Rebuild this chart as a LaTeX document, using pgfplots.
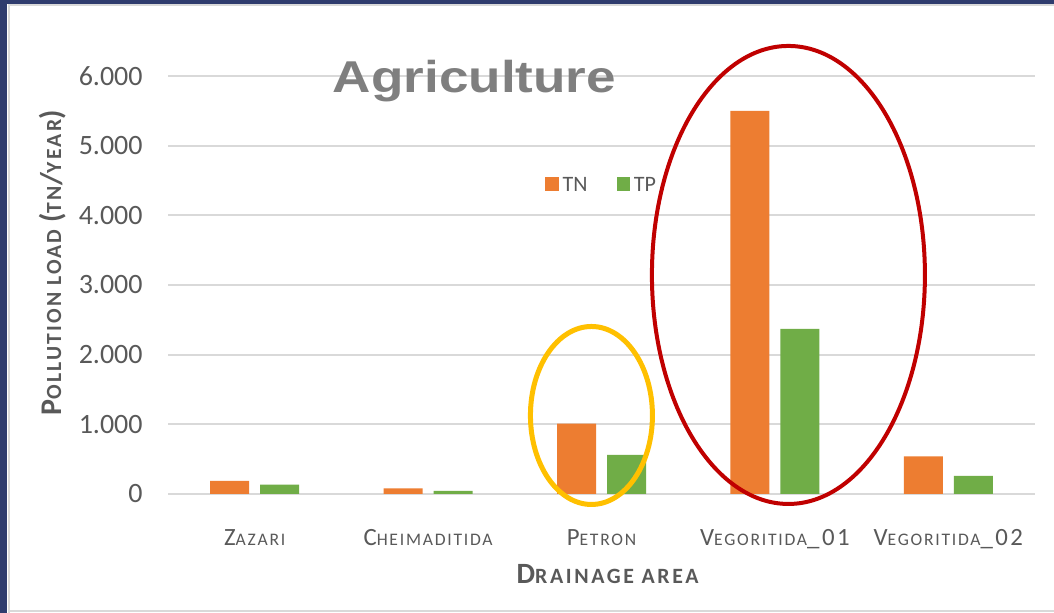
\documentclass[border=0pt]{standalone}
\usepackage{pgfplots}
\pgfplotsset{compat=1.18}
\usepackage{fontspec}
\setmainfont{Carlito}
\newfontfamily\titlefont{Liberation Sans}
\newfontfamily\catfont[LetterSpace=10]{Carlito}
\newfontfamily\ylabfont[LetterSpace=10]{Carlito}
\newfontfamily\xlabfont[LetterSpace=12]{Carlito}
\definecolor{tn}{HTML}{ED7D31}
\definecolor{tp}{HTML}{70AD47}
\definecolor{txt}{HTML}{595959}
\definecolor{grd}{HTML}{D9D9D9}
\definecolor{navy}{HTML}{2F3C6E}
\definecolor{ttl}{HTML}{7F7F7F}
\definecolor{ellA}{HTML}{FFC000}
\definecolor{ellB}{HTML}{C00000}
\newcommand{\cbig}{\fontsize{12.4}{14}\selectfont}
\newcommand{\csml}{\fontsize{8.8}{10}\selectfont}
\newcommand{\cat}[2]{\catfont{\cbig #1}{\csml #2}}
\newcommand{\lbig}{\fontsize{15}{16}\selectfont}
\newcommand{\lsml}{\fontsize{10.8}{12}\selectfont}
\newcommand{\xbig}{\fontsize{14.7}{16}\selectfont}
\newcommand{\xsml}{\fontsize{10.9}{12}\selectfont}
\begin{document}
\begin{tikzpicture}
\useasboundingbox (0,0) rectangle (527pt,306.5pt);
\begin{scope}[x=0.5pt,y=-0.5pt,yshift=306.5pt]
\fill[navy] (0,0) rectangle (1054,613);
\fill[white] (7,4) rectangle (1054,613);
\draw[grd, line width=1pt] (8.5,613) -- (8.5,5.5) -- (1054,5.5);
\draw[grd, line width=1pt] (8.5,611.5) -- (1054,611.5);
\end{scope}
\begin{axis}[
  at={(84pt,59.5pt)}, anchor=south west,
  scale only axis, width=433.5pt, height=209pt,
  xmin=-0.5, xmax=4.5, ymin=0, ymax=6000,
  ybar=5.5pt, bar width=19.5pt,
  axis line style={draw=none},
  tick style={draw=none},
  ytick={0,1000,2000,3000,4000,5000,6000},
  yticklabels={0,1.000,2.000,3.000,4.000,5.000,6.000},
  xtick={0,1,2,3,4},
  xticklabels={\cat{Z}{AZARI},\cat{C}{HEIMADITIDA},\cat{P}{ETRON},{\cat{V}{EGORITIDA}\cbig\_01},{\cat{V}{EGORITIDA}\cbig\_02}},
  ymajorgrids, grid style={grd, line width=1pt},
  tick label style={text=txt},
  yticklabel style={font=\fontsize{14}{16}\selectfont, anchor=east, inner sep=0pt, xshift=-12.5pt},
  xticklabel style={anchor=base, inner sep=0pt, yshift=-21.5pt},
  xlabel={\xlabfont\bfseries\xbig D\xsml RAINAGE AREA},
  ylabel={\ylabfont\bfseries\lbig P\lsml OLLUTION LOAD \lbig(\lsml TN\lbig/\lsml YEAR\lbig)},
  xlabel style={at={(axis description cs:0.507,-0.2153)}, anchor=base, text=txt, inner sep=0pt},
  ylabel style={at={(axis description cs:-0.1234,0.5526)}, anchor=base, text=txt, inner sep=0pt},
  clip=false,
  legend columns=2,
  legend style={draw=none, fill=none, at={(0.428,0.738)}, anchor=west, font=\fontsize{11}{13}\selectfont, text=txt, /tikz/every even column/.append style={column sep=12.5pt}},
  legend image code/.code={\fill[#1] (0pt,-2.55pt) rectangle (6.6pt,4.05pt);},
]
\addplot[fill=tn, draw=none] coordinates {(0,190) (1,80) (2,1010) (3,5500) (4,540)};
\addplot[fill=tp, draw=none] coordinates {(0,135) (1,45) (2,560) (3,2370) (4,260)};
\legend{TN,TP}
\draw[ellA, line width=2.5pt] (axis cs:1.942,1127) ellipse [x radius=30.5pt, y radius=44.5pt];
\draw[ellB, line width=2pt] (axis cs:3.078,3144) ellipse [x radius=68.25pt, y radius=114.5pt];
\end{axis}
\begin{scope}[x=0.5pt,y=-0.5pt,yshift=306.5pt]
\node[anchor=base, text=ttl, font=\titlefont\bfseries\fontsize{22.3}{26}\selectfont, xscale=1.19, inner sep=0pt] at (474.5,93) {Agriculture};
\end{scope}
\end{tikzpicture}
\end{document}
